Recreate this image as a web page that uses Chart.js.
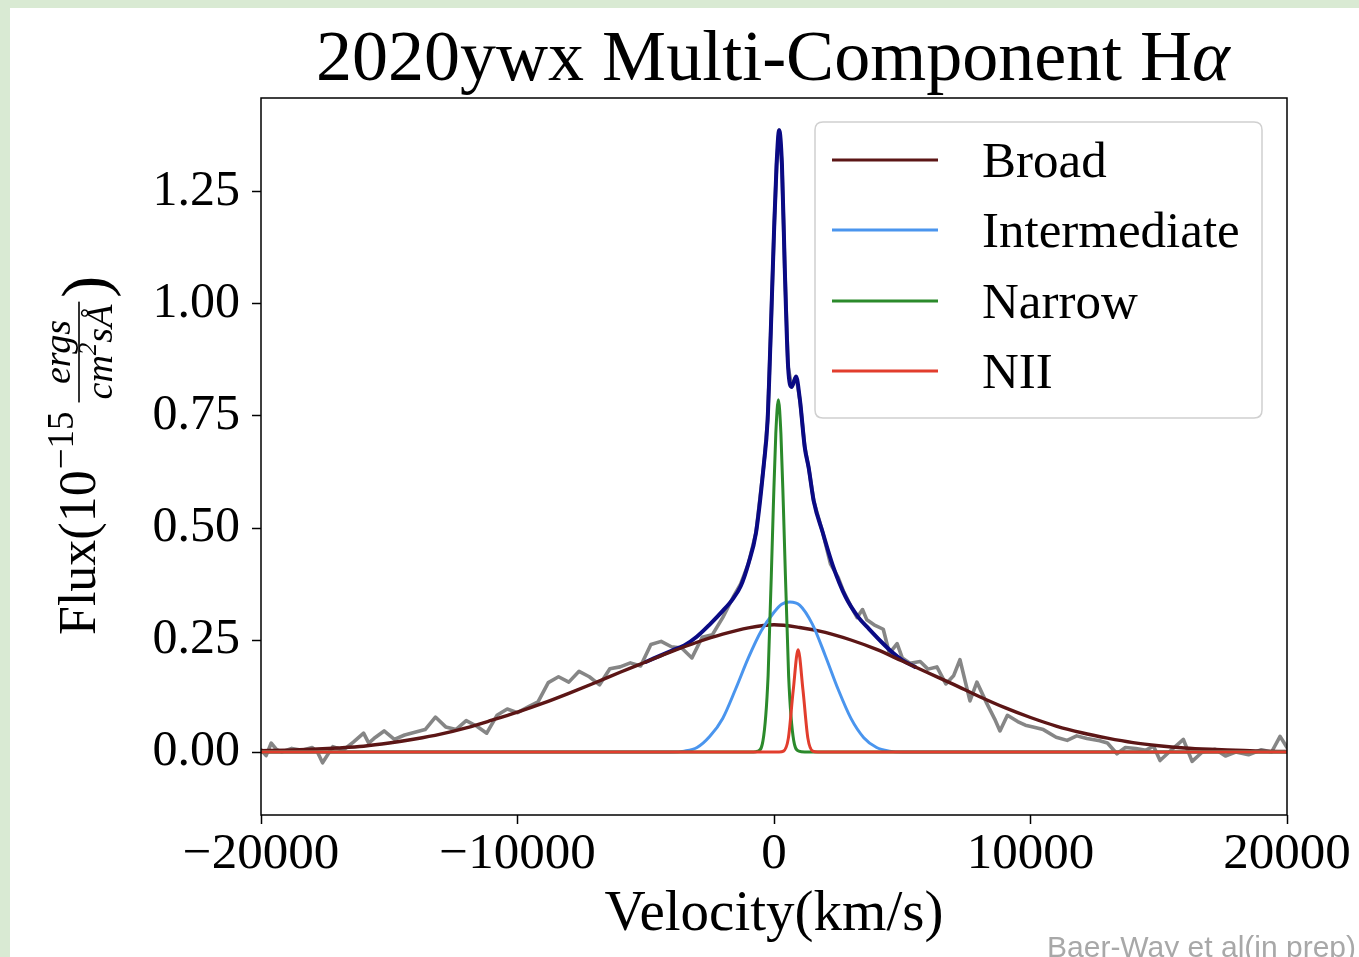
<!DOCTYPE html>
<html><head><meta charset="utf-8">
<script src="https://cdn.jsdelivr.net/npm/chart.js@4.4.1/dist/chart.umd.min.js"></script>
<style>
html,body{margin:0;padding:0;background:#d9ead3;width:1359px;height:957px;overflow:hidden}
#c{position:absolute;left:10px;top:8px;background:#fff}
</style></head><body>
<canvas id="c" width="1349" height="949"></canvas>
<script>
// ---------- data ----------
const xTickValues = [-20000, -10000, 0, 10000, 20000];
const yTickValues = [0, 0.25, 0.5, 0.75, 1.0, 1.25];

const obsVelocity = [-20000,-19800,-19600,-19400,-19200,-18800,-18400,-18000,-17800,-17600,-17200,-16800,-16400,-16000,-15800,-15600,-15200,-14800,-14400,-14000,-13600,-13200,-12800,-12400,-12000,-11600,-11200,-10800,-10400,-10000,-9600,-9200,-8800,-8400,-8000,-7600,-7200,-6800,-6400,-6000,-5600,-5200,-4800,-4400,-4000,-3600,-3200,-2800,-2400,-2000,-1600,-1300,-1000,-700,-400,-250,-130,0,100,200,310,420,550,690,860,1010,1200,1350,1550,1900,2200,2500,2700,3000,3240,3450,3620,3900,4260,4500,4800,5000,5300,5700,6000,6350,6700,7000,7250,7640,7910,8300,8600,8810,9100,9500,9800,10100,10500,11000,11430,11800,12200,12700,13000,13370,13700,14100,14500,14800,15050,15500,15960,16300,16700,17200,17600,18000,18500,19000,19400,19730,20000];
const obsFlux = [0.005,-0.008,0.02,0.006,0.0,0.008,0.004,0.01,0.0,-0.024,0.012,0.004,0.022,0.042,0.02,0.03,0.047,0.028,0.038,0.044,0.05,0.078,0.056,0.05,0.07,0.058,0.042,0.082,0.096,0.088,0.1,0.112,0.155,0.168,0.156,0.18,0.168,0.15,0.186,0.19,0.199,0.192,0.24,0.247,0.235,0.232,0.21,0.256,0.262,0.30,0.345,0.375,0.42,0.49,0.64,0.74,0.93,1.16,1.31,1.388,1.31,1.08,0.86,0.815,0.838,0.786,0.68,0.635,0.56,0.49,0.42,0.39,0.36,0.325,0.30,0.318,0.295,0.284,0.274,0.22,0.242,0.21,0.198,0.202,0.185,0.19,0.152,0.17,0.206,0.114,0.156,0.108,0.074,0.047,0.082,0.068,0.06,0.056,0.05,0.033,0.026,0.036,0.03,0.025,0.02,-0.004,0.01,0.008,0.004,0.013,-0.019,0.005,0.028,-0.021,0.0,0.006,-0.009,0.0,-0.006,0.005,0.0,0.035,0.01];

const totalVelocity = [-5000,-4000,-3500,-3000,-2500,-2000,-1600,-1300,-1000,-700,-400,-250,-130,0,100,200,310,420,550,690,860,1010,1200,1350,1550,1900,2300,2800,3300,3700,4200,4600,5000,5500];
const totalFlux = [0.201,0.226,0.238,0.258,0.285,0.315,0.342,0.37,0.42,0.49,0.64,0.74,0.93,1.16,1.31,1.388,1.31,1.08,0.86,0.815,0.838,0.786,0.68,0.635,0.56,0.49,0.415,0.345,0.30,0.275,0.245,0.223,0.205,0.19];

const broadVelocity = [-20000,-19000,-18000,-17000,-16000,-15000,-14000,-13000,-12000,-11000,-10000,-9000,-8000,-7000,-6000,-5000,-4000,-3000,-2000,-1000,0,1000,2000,3000,4000,5000,6000,7000,8000,9000,10000,11000,12000,13000,14000,15000,16000,17000,18000,19000,20000];
const broadFlux = [0.003,0.004,0.006,0.009,0.013,0.02,0.029,0.04,0.054,0.071,0.089,0.109,0.131,0.154,0.178,0.201,0.224,0.245,0.263,0.277,0.284,0.278,0.267,0.25,0.229,0.203,0.177,0.151,0.124,0.099,0.077,0.058,0.043,0.031,0.021,0.014,0.009,0.006,0.004,0.002,0.001];

const interVelocity = [-20000,-4000,-3500,-3000,-2500,-2000,-1500,-1000,-500,0,300,620,1000,1500,2000,2500,3000,3500,4000,4500,5000,20000];
const interFlux = [0,0,0.002,0.01,0.035,0.075,0.14,0.21,0.27,0.312,0.33,0.335,0.328,0.285,0.215,0.14,0.075,0.032,0.01,0.002,0,0];

const narrowVelocity = [-20000,-800,-630,-430,-230,-30,70,170,270,370,570,770,970,1200,20000];
const narrowFlux = [0,0,0.002,0.025,0.17,0.54,0.71,0.786,0.71,0.54,0.17,0.025,0.002,0,0];

const niiVelocity = [-20000,200,370,560,750,940,1130,1320,1510,1700,20000];
const niiFlux = [0,0,0.002,0.031,0.138,0.228,0.138,0.031,0.002,0,0];

// ---------- chart ----------
const SERIF = '"Liberation Serif","Times New Roman",serif';
const pairs = (xs, ys) => xs.map((x, i) => ({x: x, y: ys[i]}));
const line = (label, xs, ys, color, width, order, inLegend, smooth) => ({
  label, data: pairs(xs, ys), borderColor: color, backgroundColor: color,
  borderWidth: width, order, showLine: true, pointRadius: 0, fill: false,
  tension: 0, cubicInterpolationMode: smooth ? 'monotone' : 'default',
  inLegend, borderJoinStyle: 'round', borderCapStyle: 'round'
});

const datasets = [
  line('Data', obsVelocity, obsFlux, '#868686', 3.6, 6, false, false),
  line('Total', totalVelocity, totalFlux, '#0a0a84', 4, 5, false, true),
  line('Broad', broadVelocity, broadFlux, '#5c1616', 3.4, 4, true, true),
  line('Intermediate', interVelocity, interFlux, '#4a95ee', 3, 3, true, true),
  line('Narrow', narrowVelocity, narrowFlux, '#2b8a2b', 3, 2, true, true),
  line('NII', niiVelocity, niiFlux, '#e23d2d', 3, 1, true, true)
];

const decor = {
  id: 'decor',
  afterDraw(chart) {
    const ctx = chart.ctx, ca = chart.chartArea;
    ctx.save();
    // frame
    ctx.strokeStyle = '#000'; ctx.lineWidth = 1.5;
    ctx.strokeRect(ca.left, ca.top, ca.right - ca.left, ca.bottom - ca.top);

    // legend
    const lx = 805, ly = 114, lw = 447, lh = 296, r = 8;
    ctx.beginPath();
    ctx.moveTo(lx + r, ly); ctx.lineTo(lx + lw - r, ly); ctx.quadraticCurveTo(lx + lw, ly, lx + lw, ly + r);
    ctx.lineTo(lx + lw, ly + lh - r); ctx.quadraticCurveTo(lx + lw, ly + lh, lx + lw - r, ly + lh);
    ctx.lineTo(lx + r, ly + lh); ctx.quadraticCurveTo(lx, ly + lh, lx, ly + lh - r);
    ctx.lineTo(lx, ly + r); ctx.quadraticCurveTo(lx, ly, lx + r, ly); ctx.closePath();
    ctx.fillStyle = 'rgba(255,255,255,0.85)'; ctx.fill();
    ctx.strokeStyle = '#d0d0d0'; ctx.lineWidth = 1.5; ctx.stroke();
    const items = chart.data.datasets.filter(d => d.inLegend);
    const rows = [152, 222, 293, 363];
    ctx.font = '51px ' + SERIF; ctx.textBaseline = 'alphabetic'; ctx.textAlign = 'left';
    items.forEach((d, i) => {
      ctx.strokeStyle = d.borderColor; ctx.lineWidth = 3.2;
      ctx.beginPath(); ctx.moveTo(822, rows[i]); ctx.lineTo(928, rows[i]); ctx.stroke();
      ctx.fillStyle = '#000'; ctx.fillText(d.label, 972, rows[i] + 17);
    });

    // title
    ctx.fillStyle = '#000';
    const t1 = '2020ywx Multi-Component H', t2 = 'α';
    ctx.font = '72px ' + SERIF; const w1 = ctx.measureText(t1).width;
    ctx.font = 'italic 72px ' + SERIF; const w2 = ctx.measureText(t2).width;
    const tx = 763 - (w1 + w2) / 2;
    ctx.font = '72px ' + SERIF; ctx.fillText(t1, tx, 72);
    ctx.font = 'italic 72px ' + SERIF; ctx.fillText(t2, tx + w1, 72);

    // y label
    ctx.save();
    ctx.translate(85, 627); ctx.rotate(-Math.PI / 2);
    let x = 0;
    ctx.font = '52px ' + SERIF; ctx.fillText('Flux(10', x, 0); x += ctx.measureText('Flux(10').width;
    ctx.font = '37px ' + SERIF; ctx.fillText('−15', x + 1, -22); x += ctx.measureText('−15').width + 10;
    ctx.font = 'italic 38px ' + SERIF;
    const wn = ctx.measureText('ergs').width;
    const wcm = ctx.measureText('cm').width;
    ctx.font = 'italic 25px ' + SERIF; const w2s = ctx.measureText('2').width;
    ctx.font = 'italic 38px ' + SERIF; const wsa = ctx.measureText('sÅ').width;
    const wd = wcm + w2s + wsa;
    const fw = Math.max(wn, wd) + 6;
    const barY = -16;
    ctx.fillRect(x, barY - 0.8, fw, 1.6);
    ctx.fillText('ergs', x + (fw - wn) / 2, barY - 9);
    let dx = x + (fw - wd) / 2;
    const dBase = barY + 33;
    ctx.fillText('cm', dx, dBase); dx += wcm;
    ctx.font = 'italic 25px ' + SERIF; ctx.fillText('2', dx, dBase - 16); dx += w2s;
    ctx.font = 'italic 38px ' + SERIF; ctx.fillText('sÅ', dx, dBase);
    x += fw + 4;
    ctx.font = '66px ' + SERIF; ctx.fillText(')', x, 12);
    ctx.restore();

    // credit
    ctx.font = '30px "Liberation Sans", Arial, sans-serif';
    ctx.fillStyle = '#a8a8a8'; ctx.textAlign = 'right';
    ctx.fillText('Baer-Way et al(in prep)', 1346, 949);
    ctx.restore();
  }
};

new Chart(document.getElementById('c'), {
  type: 'scatter',
  data: { datasets },
  plugins: [decor],
  options: {
    responsive: false, animation: false, devicePixelRatio: 1,
    layout: { padding: { left: 0, top: 90, right: 72, bottom: 0 } },
    plugins: { legend: { display: false }, tooltip: { enabled: false }, title: { display: false } },
    scales: {
      x: {
        type: 'linear', min: -20000, max: 20000,
        afterBuildTicks: s => { s.ticks = xTickValues.map(v => ({ value: v })); },
        afterFit: s => { s.height = 142; },
        ticks: { font: { family: SERIF, size: 51 }, color: '#000', padding: 0, maxRotation: 0, autoSkip: false,
                 callback: v => (v < 0 ? '−' + Math.abs(v) : String(v)) },
        grid: { drawOnChartArea: false, drawTicks: true, tickLength: 9, tickColor: '#000', tickWidth: 1.5 },
        border: { display: false },
        title: { display: true, text: 'Velocity(km/s)', color: '#000', font: { family: SERIF, size: 57 }, padding: { top: 0, bottom: 8 } }
      },
      y: {
        type: 'linear', min: -0.1406, max: 1.4598,
        afterBuildTicks: s => { s.ticks = yTickValues.map(v => ({ value: v })); },
        afterFit: s => { s.width = 251; },
        ticks: { font: { family: SERIF, size: 50 }, color: '#000', padding: 12, callback: v => Number(v).toFixed(2) },
        grid: { drawOnChartArea: false, drawTicks: true, tickLength: 9, tickColor: '#000', tickWidth: 1.5 },
        border: { display: false }
      }
    }
  }
});
</script></body></html>
